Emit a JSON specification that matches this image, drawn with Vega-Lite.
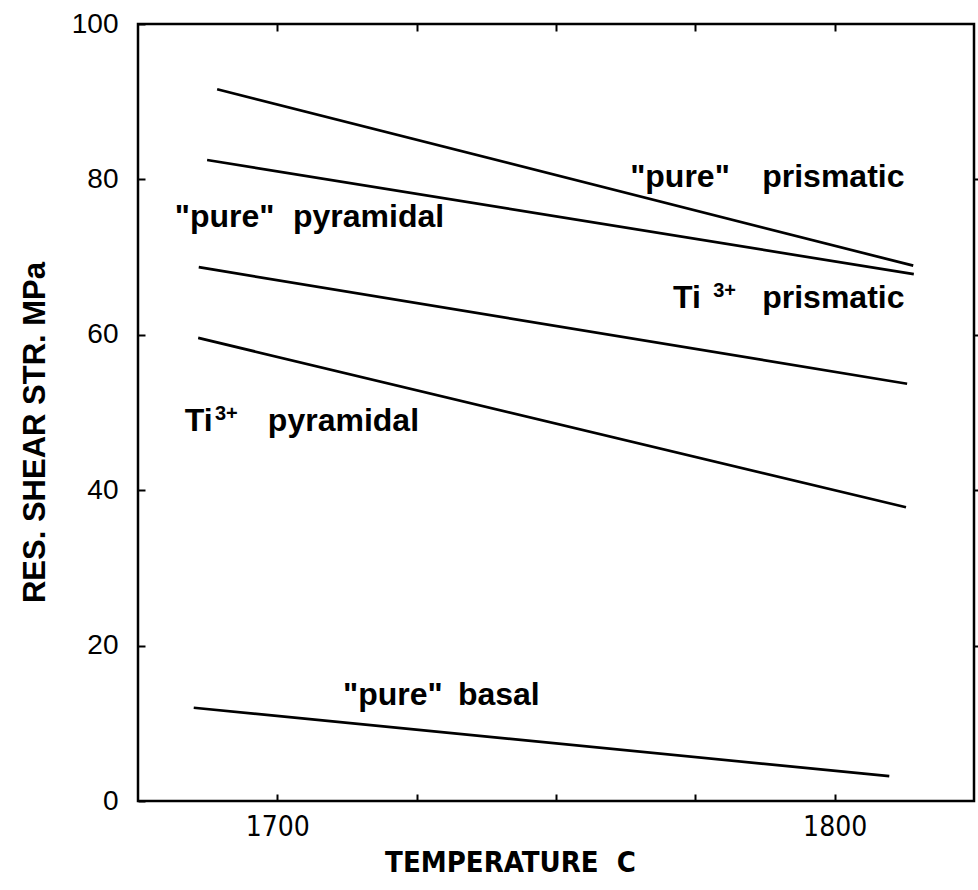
{
  "$schema": "https://vega.github.io/schema/vega-lite/v6.json",
  "width": 836,
  "height": 777,
  "autosize": {"type": "none"},
  "padding": {"left": 138, "top": 24, "right": 4, "bottom": 89},
  "background": "white",
  "config": {
    "view": {"stroke": "black", "strokeWidth": 2.5},
    "font": "Liberation Sans",
    "axis": {"grid": false, "domain": false, "tickColor": "black", "tickWidth": 2, "labelColor": "black", "titleColor": "black"}
  },
  "datasets": {
    "lines": [
      {"series": "pure prismatic", "T": 1689.2, "S": 91.6},
      {"series": "pure prismatic", "T": 1814.1, "S": 68.9},
      {"series": "pure pyramidal", "T": 1687.4, "S": 82.5},
      {"series": "pure pyramidal", "T": 1814.2, "S": 67.8},
      {"series": "Ti prismatic", "T": 1685.9, "S": 68.7},
      {"series": "Ti prismatic", "T": 1813.0, "S": 53.7},
      {"series": "Ti pyramidal", "T": 1685.8, "S": 59.6},
      {"series": "Ti pyramidal", "T": 1812.8, "S": 37.8},
      {"series": "pure basal", "T": 1685.0, "S": 12.0},
      {"series": "pure basal", "T": 1809.8, "S": 3.2}
    ],
    "words": [
      {"word": "\"pure\"", "T": 1763.3, "S": 80.3},
      {"word": "prismatic", "T": 1787.0, "S": 80.3},
      {"word": "\"pure\"", "T": 1681.6, "S": 75.2},
      {"word": "pyramidal", "T": 1702.8, "S": 75.2},
      {"word": "Ti", "T": 1771.0, "S": 64.7},
      {"word": "prismatic", "T": 1787.0, "S": 64.7},
      {"word": "Ti", "T": 1683.4, "S": 48.9},
      {"word": "pyramidal", "T": 1698.3, "S": 48.9},
      {"word": "\"pure\"", "T": 1711.8, "S": 13.6},
      {"word": "basal", "T": 1732.4, "S": 13.6}
    ],
    "superscripts": [
      {"word": "3+", "T": 1778.2, "S": 65.6},
      {"word": "3+", "T": 1688.8, "S": 49.8}
    ]
  },
  "layer": [
    {
      "data": {"name": "lines"},
      "mark": {"type": "line", "color": "black", "strokeWidth": 2.7},
      "encoding": {
        "x": {
          "field": "T", "type": "quantitative",
          "scale": {"domain": [1675, 1825], "nice": false, "zero": false},
          "axis": {
            "orient": "bottom",
            "values": [1700, 1725, 1750, 1775, 1800],
            "labelExpr": "datum.value == 1700 || datum.value == 1800 ? datum.label : ''",
            "format": "d",
            "tickSize": -7,
            "labelPadding": 19,
            "labelFontSize": 28,
            "labelFont": "'DejaVu Sans Condensed', 'Liberation Sans', sans-serif",
            "title": "TEMPERATURE\u00a0\u00a0C",
            "titleFont": "'DejaVu Sans Condensed', 'Liberation Sans', sans-serif",
            "titleFontSize": 29,
            "titleFontWeight": "bold",
            "titleX": 372,
            "titleY": 61,
            "titleBaseline": "middle"
          }
        },
        "y": {
          "field": "S", "type": "quantitative",
          "scale": {"domain": [0, 100], "nice": false},
          "axis": {
            "orient": "left",
            "values": [0, 20, 40, 60, 80, 100],
            "tickSize": -7,
            "labelPadding": 27,
            "labelFontSize": 28,
            "title": "RES. SHEAR STR. MPa",
            "titleFontSize": 31,
            "titleFontWeight": "bold",
            "titleAngle": -90,
            "titleX": -103,
            "titleY": 408,
            "titleBaseline": "middle"
          }
        },
        "detail": {"field": "series"}
      }
    },
    {
      "data": {"name": "words"},
      "mark": {"type": "text", "color": "black", "fontSize": 32, "fontWeight": "bold", "font": "Liberation Sans", "align": "left", "baseline": "middle"},
      "encoding": {
        "x": {
          "field": "T", "type": "quantitative",
          "axis": {"orient": "top", "values": [1700, 1725, 1750, 1775, 1800], "labels": false, "tickSize": -7, "title": null}
        },
        "y": {
          "field": "S", "type": "quantitative",
          "axis": {"orient": "right", "values": [20, 40, 60, 80], "labels": false, "tickSize": 6, "title": null}
        },
        "text": {"field": "word"}
      }
    },
    {
      "data": {"name": "superscripts"},
      "mark": {"type": "text", "color": "black", "fontSize": 20, "fontWeight": "bold", "font": "Liberation Sans", "align": "left", "baseline": "middle"},
      "encoding": {
        "x": {"field": "T", "type": "quantitative", "axis": null},
        "y": {"field": "S", "type": "quantitative", "axis": null},
        "text": {"field": "word"}
      }
    }
  ],
  "resolve": {"axis": {"x": "independent", "y": "independent"}}
}
